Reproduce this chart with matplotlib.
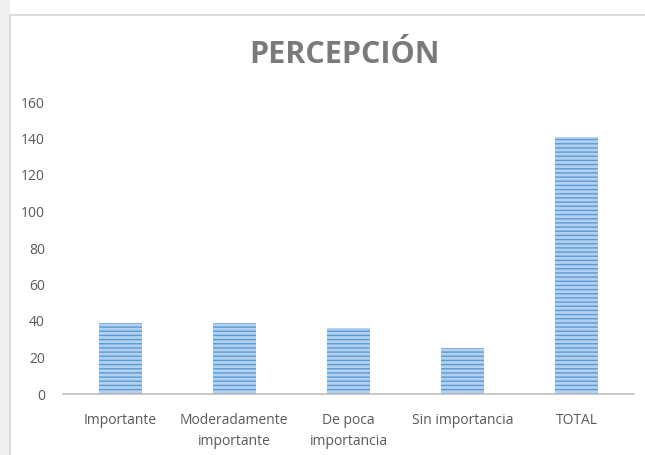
import matplotlib.pyplot as plt
from matplotlib.patches import Rectangle

categorias = ['Importante', 'Moderadamente\nimportante', 'De poca\nimportancia',
              'Sin importancia', 'TOTAL']
valores = [39, 39, 36, 25, 141]
ticks_y = [0, 20, 40, 60, 80, 100, 120, 140, 160]

plt.rcParams['font.family'] = ['Open Sans', 'DejaVu Sans']

fig = plt.figure(figsize=(6.45, 4.55), dpi=100)
fig.patch.set_facecolor('white')

# marco exterior gris claro
fig.patches.append(Rectangle((0, 0), 10 / 645, 1, transform=fig.transFigure,
                             facecolor='#efefef', edgecolor='none', zorder=-2))
fig.patches.append(Rectangle((10 / 645, -0.01), 1, 1 - 15 / 455 + 0.01,
                             transform=fig.transFigure, facecolor='white',
                             edgecolor='#d4d4d4', linewidth=1.2, zorder=-1))

ax = fig.add_axes([63 / 645, 1 - 394 / 455, 571 / 645, 292 / 455])
ax.set_zorder(2)
ax.set_facecolor('none')

x = range(len(categorias))
ax.bar(x, valores, width=0.375, color='#b3d1ee', edgecolor='#5b9bd5',
       linewidth=0, hatch='----')

ax.set_xlim(-0.5, len(categorias) - 0.5)
ax.set_ylim(0, 160)
ax.set_yticks(ticks_y)
ax.set_xticks(list(x))
ax.set_xticklabels(categorias, linespacing=1.55)

for s in ['top', 'right', 'left']:
    ax.spines[s].set_visible(False)
ax.spines['bottom'].set_color('#bfbfbf')
ax.spines['bottom'].set_linewidth(1.2)
ax.tick_params(axis='both', length=0, colors='#595959', labelsize=10)
ax.tick_params(axis='x', pad=14)
ax.tick_params(axis='y', pad=13)

fig.text(344 / 645, 1 - 55 / 455, 'PERCEPCIÓN', ha='center', va='center',
         fontsize=22, fontweight='bold', color='#7a7a7a', zorder=3)

fig.savefig('out.png', dpi=100)
